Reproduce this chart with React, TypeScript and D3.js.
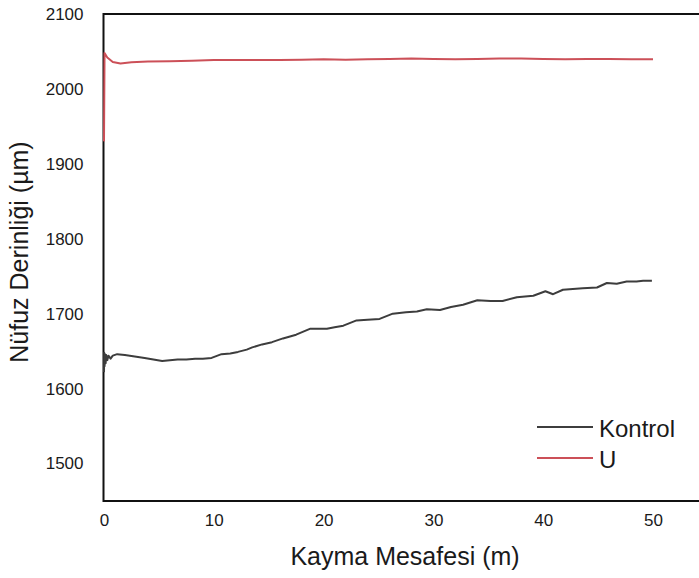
import React, { useEffect, useRef } from 'react';
import * as d3 from 'd3';

// sliding distance (m) and penetration depth (µm)
const kontrolX = [0, 0.02, 0.05, 0.1, 0.15, 0.2, 0.3, 0.4, 0.6, 0.8,
  1.2, 1.9, 2.8, 3.7, 4.5, 5.3, 6.0, 6.7, 7.5, 8.3,
  9.0, 9.8, 10.7, 11.5, 12.2, 13.0, 13.5, 14.4, 15.3, 16.3,
  17.5, 18.8, 19.5, 20.3, 21.0, 21.8, 23.0, 24.0, 25.1, 26.3,
  27.5, 28.5, 29.4, 30.6, 31.6, 32.7, 34.0, 35.2, 36.3, 37.6,
  39.1, 40.2, 40.9, 41.8, 42.7, 43.6, 44.9, 45.8, 46.7, 47.6,
  48.5, 49.1, 49.9];
const kontrolY = [1622, 1648, 1630, 1646, 1634, 1645, 1638, 1644, 1640, 1644,
  1646, 1645, 1643, 1641, 1639, 1637, 1638, 1639, 1639, 1640,
  1640, 1641, 1646, 1647, 1649, 1652, 1655, 1659, 1662, 1667,
  1672, 1680, 1680, 1680, 1682, 1684, 1691, 1692, 1693, 1700,
  1702, 1703, 1706, 1705, 1709, 1712, 1718, 1717, 1717, 1722,
  1724, 1730, 1726, 1732, 1733, 1734, 1735, 1741, 1740, 1743,
  1743, 1744, 1744];

const uX = [0, 0.05, 0.3, 0.8, 1.5, 2.5, 4, 6, 8, 10,
  12, 14, 16, 18, 20, 22, 24, 26, 28, 30,
  32, 34, 36, 38, 40, 42, 44, 46, 48, 50];
const uY = [1930, 2048, 2042, 2036, 2034, 2035.5, 2036.5, 2037, 2037.5, 2038.5,
  2038.5, 2038.5, 2038.5, 2039, 2039.5, 2039, 2039.5, 2040, 2040.5, 2040,
  2039.5, 2040, 2040.5, 2040.5, 2040, 2039.5, 2040, 2040, 2039.5, 2039.5];

const xTicks = [0, 10, 20, 30, 40, 50];
const yTicks = [1500, 1600, 1700, 1800, 1900, 2000, 2100];

const seriesNames = ['Kontrol', 'U'];
const seriesColors = ['#3d3d3d', '#cc5058'];

const W = 699, H = 578;
const FONT = '"Liberation Sans", Arial, sans-serif';

export default function App() {
  const ref = useRef<SVGSVGElement>(null);

  useEffect(() => {
    const svg = d3.select(ref.current);
    svg.selectAll('*').remove();

    const left = 103.5, top = 14, bottom = 501;
    const x = d3.scaleLinear().domain([0, 50]).range([104, 653]);
    const y = d3.scaleLinear().domain([1450, 2100]).range([bottom, top]);

    // axes (labels only, no tick marks)
    const gx = svg.append('g')
      .attr('transform', `translate(0,${bottom})`)
      .call(d3.axisBottom(x).tickValues(xTicks).tickFormat(d3.format('d')).tickSize(0).tickPadding(13));
    const gy = svg.append('g')
      .attr('transform', `translate(${left},0)`)
      .call(d3.axisLeft(y).tickValues(yTicks).tickFormat(d3.format('d')).tickSize(0).tickPadding(20));
    [gx, gy].forEach(g => {
      g.select('.domain').remove();
      g.selectAll('text')
        .attr('font-family', FONT)
        .attr('font-size', 17)
        .attr('fill', '#1a1a1a');
    });

    // frame: left, bottom, top
    svg.append('path')
      .attr('d', `M${W},${top}H${left}V${bottom}H${W}`)
      .attr('fill', 'none')
      .attr('stroke', '#111')
      .attr('stroke-width', 2);

    const line = d3.line<[number, number]>()
      .x(d => x(d[0]))
      .y(d => y(d[1]));

    const series: [number, number][][] = [
      d3.zip(kontrolX, kontrolY) as [number, number][],
      d3.zip(uX, uY) as [number, number][],
    ];

    series.forEach((s, i) => {
      svg.append('path')
        .datum(s)
        .attr('d', line)
        .attr('fill', 'none')
        .attr('stroke', seriesColors[i])
        .attr('stroke-width', 2)
        .attr('stroke-linejoin', 'round');
    });

    // legend
    const lg = svg.append('g').attr('transform', 'translate(537,427)');
    seriesNames.forEach((name, i) => {
      const row = lg.append('g').attr('transform', `translate(0,${i * 31})`);
      row.append('line')
        .attr('x1', 0).attr('x2', 56)
        .attr('stroke', seriesColors[i])
        .attr('stroke-width', 2);
      row.append('text')
        .attr('x', 62).attr('y', 1)
        .attr('dy', '0.36em')
        .attr('font-family', FONT)
        .attr('font-size', 24)
        .attr('fill', '#1a1a1a')
        .text(name);
    });

    // axis titles
    svg.append('text')
      .attr('x', 405).attr('y', 565)
      .attr('text-anchor', 'middle')
      .attr('font-family', FONT)
      .attr('font-size', 25)
      .attr('fill', '#1a1a1a')
      .text('Kayma Mesafesi (m)');
    svg.append('text')
      .attr('transform', 'translate(28,252) rotate(-90)')
      .attr('text-anchor', 'middle')
      .attr('font-family', FONT)
      .attr('font-size', 25)
      .attr('fill', '#1a1a1a')
      .text('Nüfuz Derinliği (µm)');
  }, []);

  return (
    <svg ref={ref} width={W} height={H}
      style={{ position: 'absolute', left: 0, top: 0, background: '#fff' }} />
  );
}
